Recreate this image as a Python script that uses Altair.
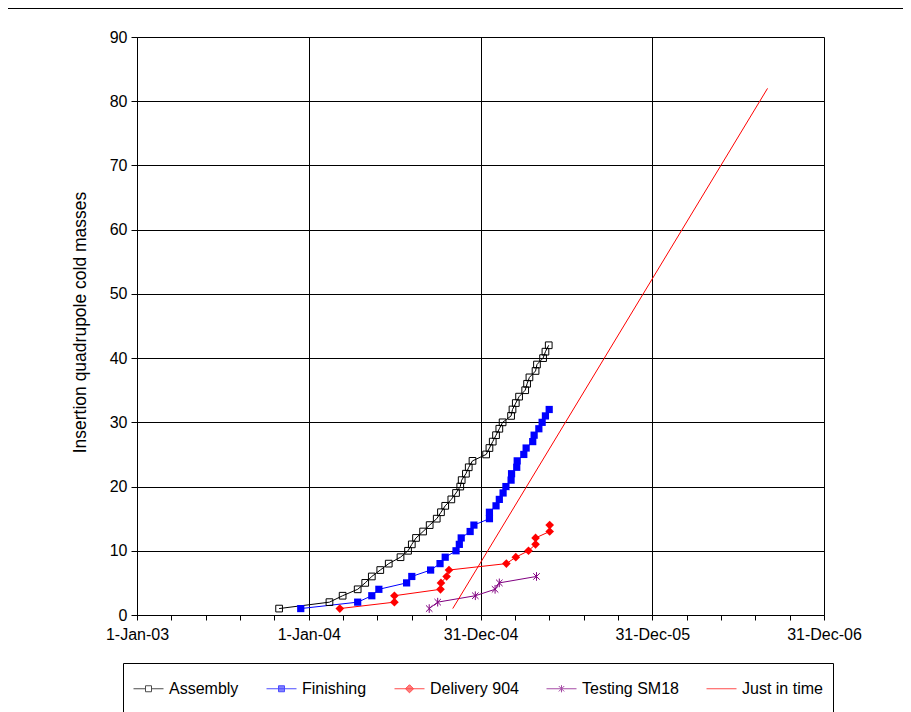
import altair as alt
import pandas as pd
import calendar
from datetime import date, timedelta

# ---------------- data ----------------
series_names = ["Assembly", "Finishing", "Delivery 904", "Testing SM18", "Just in time"]

assembly_dates = ["2003-10-30", "2004-02-14", "2004-03-13", "2004-04-14", "2004-04-30",
                  "2004-05-14", "2004-06-01", "2004-06-19", "2004-07-14", "2004-07-30",
                  "2004-08-07", "2004-08-16", "2004-08-31", "2004-09-14", "2004-09-29",
                  "2004-10-08", "2004-10-17", "2004-10-30", "2004-11-09", "2004-11-18",
                  "2004-11-21", "2004-11-30", "2004-12-06", "2004-12-14", "2005-01-12",
                  "2005-01-19", "2005-01-26", "2005-02-02", "2005-02-09", "2005-02-16",
                  "2005-03-06", "2005-03-09", "2005-03-16", "2005-03-23", "2005-04-05",
                  "2005-04-09", "2005-04-14", "2005-04-27", "2005-04-30", "2005-05-13",
                  "2005-05-18", "2005-05-25"]
assembly_counts = [1, 2, 3, 4, 5, 6, 7, 8, 9, 10, 11, 12, 13, 14, 15, 16, 17, 18, 19, 20,
                   21, 22, 23, 24, 25, 26, 27, 28, 29, 30, 31, 32, 33, 34, 35, 36, 37, 38,
                   39, 40, 41, 42]

finishing_dates = ["2003-12-15", "2004-04-14", "2004-05-14", "2004-05-29", "2004-07-27",
                   "2004-08-07", "2004-09-16", "2004-10-06", "2004-10-17", "2004-11-09",
                   "2004-11-16", "2004-11-20", "2004-12-09", "2004-12-17", "2005-01-19",
                   "2005-01-19", "2005-02-02", "2005-02-09", "2005-02-17", "2005-02-23",
                   "2005-03-06", "2005-03-07", "2005-03-18", "2005-03-19", "2005-04-02",
                   "2005-04-07", "2005-04-21", "2005-04-24", "2005-05-04", "2005-05-11",
                   "2005-05-18", "2005-05-26"]
finishing_counts = [1, 2, 3, 4, 5, 6, 7, 8, 9, 10, 11, 12, 13, 14, 15, 16, 17, 18, 19, 20,
                    21, 22, 23, 24, 25, 26, 27, 28, 29, 30, 31, 32]

delivery_dates = ["2004-03-07", "2004-07-01", "2004-07-01", "2004-10-07", "2004-10-08",
                  "2004-10-20", "2004-10-25", "2005-02-24", "2005-03-16", "2005-04-12",
                  "2005-04-27", "2005-04-27", "2005-05-27", "2005-05-27"]
delivery_counts = [1, 2, 3, 4, 5, 6, 7, 8, 9, 10, 11, 12, 13, 14]

testing_dates = ["2004-09-13", "2004-10-01", "2004-12-20", "2005-01-31", "2005-02-09",
                 "2005-04-29"]
testing_counts = [1, 2, 3, 4, 5, 6]

jit_dates = ["2004-11-02", "2006-09-02"]
jit_counts = [1, 82]

x_start, x_end = "2003-01-01", "2006-12-31"
y_ticks = [0, 10, 20, 30, 40, 50, 60, 70, 80, 90]
y_title = "Insertion quadrupole cold masses"

# ---------------- table ----------------
frames = []
for name, d, c in [("Assembly", assembly_dates, assembly_counts),
                   ("Finishing", finishing_dates, finishing_counts),
                   ("Delivery 904", delivery_dates, delivery_counts),
                   ("Testing SM18", testing_dates, testing_counts),
                   ("Just in time", jit_dates, jit_counts)]:
    frames.append(pd.DataFrame({"series": name, "date": d, "count": c}))
df = pd.concat(frames, ignore_index=True)


def utc_ms(iso):
    y, m, dd = map(int, iso.split("-"))
    return calendar.timegm(date(y, m, dd).timetuple()) * 1000


t0 = utc_ms(x_start)
t1 = utc_ms(x_end)
# Excel axis: major unit 365 days, minor unit 73 days
tick_values = []
d0 = date(2003, 1, 1)
k = 0
while True:
    dd = d0 + timedelta(days=73 * k)
    if dd > date(2006, 12, 31):
        break
    tick_values.append(calendar.timegm(dd.timetuple()) * 1000)
    k += 1

major_test = f"round((datum.value - {t0}) / 86400000) % 365 == 0"

FONT = "Liberation Sans"
line_colors = ["#000000", "#0000FF", "#FF0000", "#800080", "#FF0000"]
legend_fill = ["#FFFFFF", "#0000FF", "#FF0000", "#800080", "#FF0000"]
legend_paths = [
    "M-1,0H-0.2M0.2,0H1M-0.2,-0.2H0.2V0.2H-0.2Z",
    "M-1,0H1M-0.2,-0.2H0.2V0.2H-0.2Z",
    "M-1,0H1M0,-0.27L0.27,0L0,0.27L-0.27,0Z",
    "M-1,0H1M-0.18,-0.18L0.18,0.18M-0.18,0.18L0.18,-0.18M0,-0.24V0.24",
    "M-1,0H1",
]

x_enc = alt.X(
    "date:T",
    scale=alt.Scale(type="utc", domain=[t0, t1]),
    axis=alt.Axis(
        values=tick_values,
        tickCount=100,
        title=None,
        labelExpr=f"{major_test} ? utcFormat(datum.value, '%-d-%b-%y') : ''",
        gridOpacity={"condition": {"test": major_test, "value": 1}, "value": 0},
        grid=True,
        gridColor="#000000",
        gridWidth=1,
        tickSize=5,
        tickColor="#000000",
        domainColor="#000000",
        labelFont=FONT,
        labelFontSize=16,
        labelColor="#000000",
        labelPadding=6,
        labelOverlap=False,
        labelFlush=False,
    ),
)
y_enc = alt.Y(
    "count:Q",
    scale=alt.Scale(domain=[0, 90], nice=False, zero=True),
    axis=alt.Axis(
        values=y_ticks,
        title=y_title,
        titleFont=FONT,
        titleFontSize=17.5,
        titleFontWeight="normal",
        titleColor="#000000",
        titleX=-57,
        titleY=285,
        titleAngle=270,
        titleAlign="center",
        titleBaseline="middle",
        grid=True,
        gridColor="#000000",
        gridWidth=1,
        tickSize=6,
        tickColor="#000000",
        domainColor="#000000",
        labelFont=FONT,
        labelFontSize=16,
        labelColor="#000000",
        labelPadding=4,
    ),
)

base = alt.Chart(df)


def series_line(name, colour, first=False):
    return base.transform_filter(f"datum.series == '{name}'").mark_line(
        strokeWidth=1, color=colour
    ).encode(
        x=x_enc if first else "date:T",
        y=y_enc if first else "count:Q",
        order="count:Q",
    )


line_layers = [series_line(n, c, i == 0) for i, (n, c) in enumerate(zip(series_names, line_colors))]

pts_assembly = base.transform_filter("datum.series == 'Assembly'").mark_point(
    shape="square", filled=False, color="#000000", size=45, strokeWidth=1, opacity=1
).encode(x="date:T", y="count:Q")

pts_finishing = base.transform_filter("datum.series == 'Finishing'").mark_point(
    shape="square", filled=True, color="#0000FF", size=52, opacity=1
).encode(x="date:T", y="count:Q")

pts_delivery = base.transform_filter("datum.series == 'Delivery 904'").mark_point(
    shape="M0,-1L1,0L0,1L-1,0Z", filled=True, color="#FF0000", size=75, opacity=1
).encode(x="date:T", y="count:Q")

pts_testing = base.transform_filter("datum.series == 'Testing SM18'").mark_point(
    shape="M-0.75,-0.75L0.75,0.75M-0.75,0.75L0.75,-0.75M0,-1V1", filled=False,
    color="#800080", size=75, strokeWidth=1, opacity=1
).encode(x="date:T", y="count:Q")

legend_def = alt.Legend(
    orient="none",
    legendX=-14,
    legendY=626,
    direction="horizontal",
    columns=5,
    title=" ",
    titleOrient="bottom",
    titlePadding=10,
    titleFontSize=16,
    strokeColor="#000000",
    fillColor="#FFFFFF",
    padding=10,
    symbolSize=900,
    symbolStrokeWidth=1,
    labelFont=FONT,
    labelFontSize=16,
    labelColor="#000000",
    labelOffset=5,
    columnPadding=25,
)

legend_layer = base.transform_filter("false").mark_point(filled=True, strokeWidth=1).encode(
    x="date:T",
    y="count:Q",
    fill=alt.Fill("series:N", scale=alt.Scale(domain=series_names, range=legend_fill), legend=legend_def),
    stroke=alt.Stroke("series:N", scale=alt.Scale(domain=series_names, range=line_colors), legend=legend_def),
    shape=alt.Shape("series:N", scale=alt.Scale(domain=series_names, range=legend_paths), legend=legend_def),
)

# chart-area frame line along the top edge of the canvas
frame_top = alt.Chart(df).mark_rule(color="#000000", strokeWidth=1).encode(
    x=alt.value(-129), x2=alt.value(766), y=alt.value(-28.5)
)

chart = (
    alt.layer(*line_layers, pts_assembly, pts_finishing, pts_delivery, pts_testing,
              legend_layer, frame_top)
    .properties(
        width=687,
        height=578,
        padding={"left": 129, "top": 29, "right": 79, "bottom": 110},
        autosize=alt.AutoSizeParams(type="none"),
        background="#FFFFFF",
    )
    .configure_view(stroke="#000000", strokeWidth=1)
    .configure(font=FONT)
)

chart.save("out.html", embed_options={"renderer": "svg", "actions": False})
